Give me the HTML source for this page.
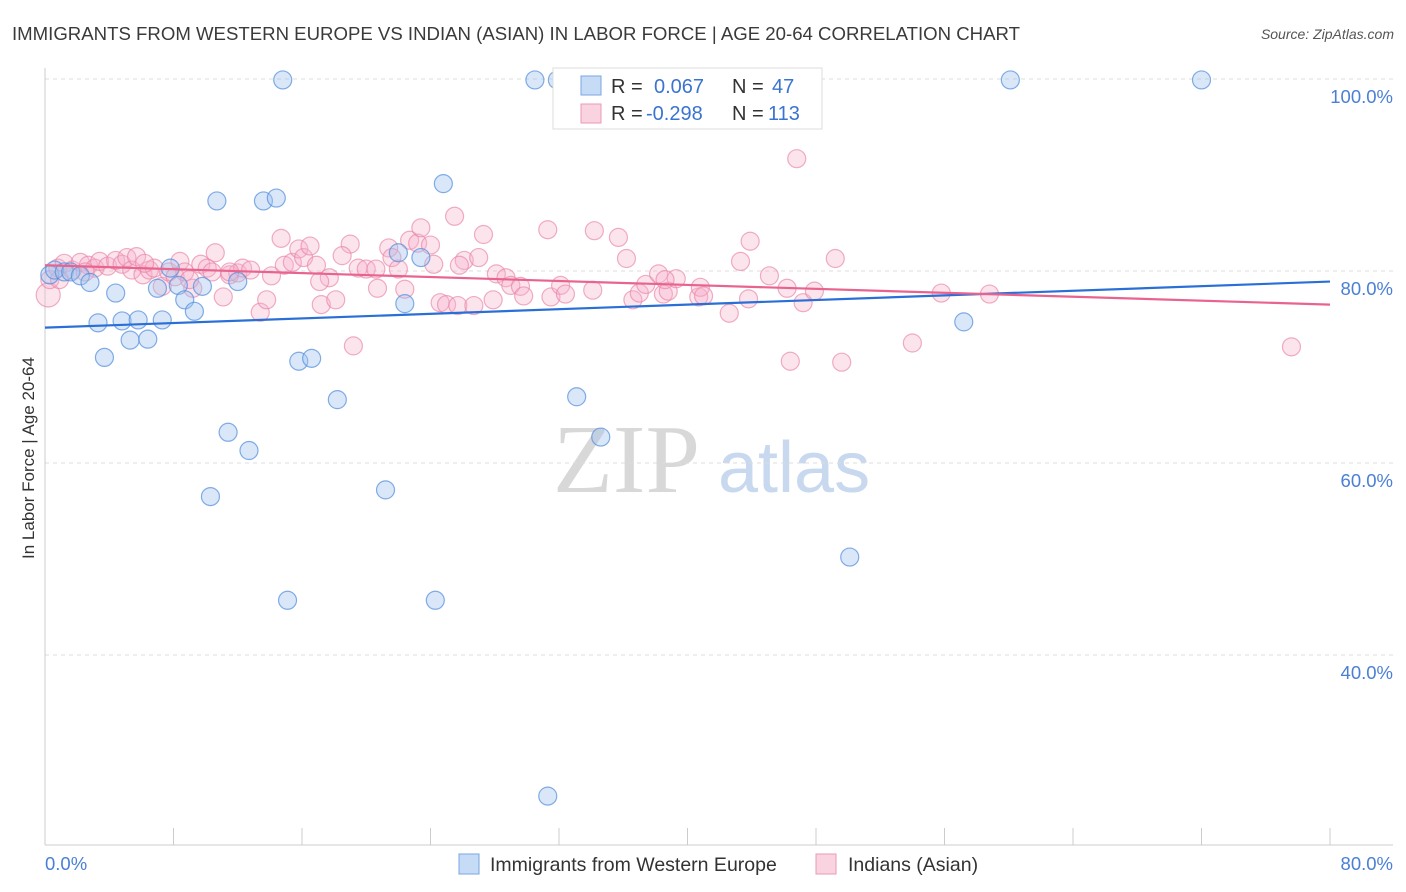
<!DOCTYPE html>
<html><head><meta charset="utf-8">
<style>
body{margin:0;background:#fff;font-family:"Liberation Sans",sans-serif;}
#wrap{position:relative;width:1406px;height:892px;overflow:hidden;}
</style></head>
<body>
<div id="wrap">
<svg id="chart" width="1406" height="892" xmlns="http://www.w3.org/2000/svg">
<text x="12" y="40" font-size="18" fill="#3a3a3a" textLength="1008" lengthAdjust="spacingAndGlyphs">IMMIGRANTS FROM WESTERN EUROPE VS INDIAN (ASIAN) IN LABOR FORCE | AGE 20-64 CORRELATION CHART</text>
<text x="1394" y="39" font-size="14" fill="#555" text-anchor="end" font-style="italic">Source: ZipAtlas.com</text>
<text x="34" y="458" font-size="17" fill="#333" text-anchor="middle" transform="rotate(-90 34 458)">In Labor Force | Age 20-64</text>
<g>
<text x="553" y="492" font-size="98" fill="#d8d8d8" font-family="Liberation Serif,serif">ZIP</text>
<text x="718" y="492" font-size="72" fill="#c8d8ee">atlas</text>
</g>
<g id="grid"></g>
<g id="axes"></g>
<g id="pts"></g>
<g id="trend"></g>
<g>
<rect x="553" y="68" width="269" height="61" fill="#fff" stroke="#ddd"/>
<rect x="581" y="76" width="20" height="19" fill="rgba(160,196,240,0.6)" stroke="#7aa6e0"/>
<rect x="581" y="104" width="20" height="19" fill="rgba(246,182,204,0.6)" stroke="#eb9ab6"/>
<g font-size="20">
<text x="611" y="93" fill="#333">R =</text><text x="654" y="93" fill="#3a74d0">0.067</text><text x="732" y="93" fill="#333">N =</text><text x="772" y="93" fill="#3a74d0">47</text>
</g>
<g font-size="20">
<text x="611" y="120" fill="#333">R =</text><text x="646" y="120" fill="#3a74d0">-0.298</text><text x="732" y="120" fill="#333">N =</text><text x="768" y="120" fill="#3a74d0">113</text>
</g>
</g>
<g>
<rect x="459" y="854" width="20" height="20" fill="rgba(160,196,240,0.6)" stroke="#7aa6e0"/>
<text x="490" y="871" font-size="19.5" fill="#333">Immigrants from Western Europe</text>
<rect x="816" y="854" width="20" height="20" fill="rgba(246,182,204,0.6)" stroke="#eb9ab6"/>
<text x="848" y="871" font-size="19.5" fill="#333">Indians (Asian)</text>
</g>
</svg>
</div>
<script>
const yTicks=[40,60,80,100];
const yTickLabels=["40.0%","60.0%","80.0%","100.0%"];
const xTickLabels=["0.0%","80.0%"];
const blueX=[0.3,0.6,1.2,1.6,2.2,2.8,4.4,3.3,3.7,4.8,5.3,5.8,6.4,7.3,7.0,7.8,8.3,8.7,9.3,9.8,10.7,10.3,11.4,12.0,12.7,13.6,14.4,14.8,15.1,15.8,16.6,18.2,21.2,22.0,22.4,23.4,24.3,24.8,30.5,31.9,31.3,33.1,34.6,50.1,57.2,60.1,72.0];
const blueY=[79.6,80.1,79.9,79.9,79.5,78.8,77.7,74.6,71.0,74.8,72.8,74.9,72.9,74.9,78.2,80.3,78.5,77.0,75.8,78.4,87.3,56.5,63.2,78.9,61.3,87.3,87.6,99.9,45.7,70.6,70.9,66.6,57.2,81.9,76.6,81.4,45.7,89.1,99.9,99.9,25.3,66.9,62.7,50.2,74.7,99.9,99.9];
const pinkX=[0.2,0.3,0.8,1.2,1.7,2.2,2.7,3.1,3.4,3.9,4.4,4.8,5.1,5.4,5.7,6.1,6.5,6.8,7.3,7.7,8.1,8.4,8.7,9.2,9.7,10.1,10.4,10.6,11.1,11.5,12.0,12.3,12.8,13.4,13.8,14.1,14.7,14.9,15.4,15.8,16.1,16.5,16.9,17.2,17.7,18.1,19.0,19.2,18.5,19.5,20.0,20.6,20.7,21.4,21.6,22.0,22.4,22.7,23.2,23.4,24.0,24.2,24.6,25.0,25.5,25.7,26.1,26.7,27.0,27.3,27.9,28.1,28.7,29.0,29.6,29.8,31.3,31.5,32.1,32.4,34.1,34.2,35.7,36.2,36.6,37.0,37.4,38.2,38.5,38.8,39.3,40.7,40.8,41.0,42.6,43.3,43.8,43.9,45.1,46.2,46.4,46.8,47.2,47.9,49.2,49.6,54.0,55.8,58.8,77.6,0.9,2.5,6.2,9.0,11.5,17.1,25.8,38.6];
const pinkY=[77.5,79.1,80.3,80.8,80.1,80.9,80.6,80.3,81.0,80.5,81.1,80.7,81.4,80.1,81.5,79.6,80.1,80.3,78.4,79.9,79.4,81.0,79.9,78.2,80.7,80.3,79.9,81.9,77.3,79.6,79.8,80.3,80.1,75.7,77.0,79.5,83.4,80.6,80.9,82.3,81.4,82.6,80.6,76.5,79.3,77.0,82.8,72.2,81.6,80.3,80.2,80.2,78.2,82.4,81.4,80.2,78.1,83.2,82.9,84.5,82.7,80.7,76.7,76.5,85.7,76.4,81.1,76.4,81.4,83.8,77.0,79.7,79.3,78.5,78.4,77.4,84.3,77.3,78.5,77.6,78.0,84.2,83.5,81.3,77.0,77.7,78.6,79.7,77.6,77.9,79.2,77.3,78.3,77.4,75.6,81.0,77.1,83.1,79.5,78.2,70.6,91.7,76.7,77.9,81.3,70.5,72.5,77.7,77.6,72.1,79.1,79.9,80.8,79.1,79.9,78.9,80.6,79.1];
const blueTrend=[74.1,78.9];
const pinkTrend=[80.6,76.5];
const NS="http://www.w3.org/2000/svg";
const X=v=>45+v/80*1285;
const Y=v=>271-(v-80)*9.6;
function mk(t,a,p){const e=document.createElementNS(NS,t);for(const k in a)e.setAttribute(k,a[k]);p.appendChild(e);return e;}
const grid=document.getElementById('grid'),axes=document.getElementById('axes'),pts=document.getElementById('pts'),tr=document.getElementById('trend');
yTicks.forEach((t,i)=>{
 const l=mk('line',{x1:45,x2:1393,y1:Y(t),y2:Y(t),stroke:'#dcdcdc','stroke-dasharray':'4,4'},grid);
 
 
 const tx=mk('text',{x:1393,y:Y(t)+24,'font-size':18.5,fill:'#4a7fd4','text-anchor':'end'},axes);
 tx.textContent=yTickLabels[i];
 
 
});
let a=mk('line',{x1:45,x2:45,y1:68,y2:845,stroke:'#ccc'},axes);


a=mk('line',{x1:45,x2:1393,y1:845,y2:845,stroke:'#ccc'},axes);


for(let i=1;i<=10;i++){
 const t=mk('line',{x1:X(i*8),x2:X(i*8),y1:828,y2:845,stroke:'#ccc'},axes);
 
 
}
let xl=mk('text',{x:45,y:870,'font-size':18.5,fill:'#4a7fd4'},axes);xl.textContent=xTickLabels[0];


xl=mk('text',{x:1393,y:870,'font-size':18.5,fill:'#4a7fd4','text-anchor':'end'},axes);xl.textContent=xTickLabels[1];


pinkX.forEach((v,i)=>{
 const c=mk('circle',{cx:X(v),cy:Y(pinkY[i]),r:i==0?12:9,fill:'rgba(246,178,202,0.35)',stroke:'rgba(232,130,166,0.65)','stroke-width':1.2},pts);
 
 
});
blueX.forEach((v,i)=>{
 const c=mk('circle',{cx:X(v),cy:Y(blueY[i]),r:9,fill:'rgba(160,196,240,0.4)',stroke:'rgba(80,140,220,0.7)','stroke-width':1.2},pts);
 
 
});
let t1=mk('line',{x1:X(0),x2:X(80),y1:Y(blueTrend[0]),y2:Y(blueTrend[1]),stroke:'#2a6fd6','stroke-width':2.2},tr);


let t2=mk('line',{x1:X(0),x2:X(80),y1:Y(pinkTrend[0]),y2:Y(pinkTrend[1]),stroke:'#e8648f','stroke-width':2.2},tr);


</script>
</body></html>
